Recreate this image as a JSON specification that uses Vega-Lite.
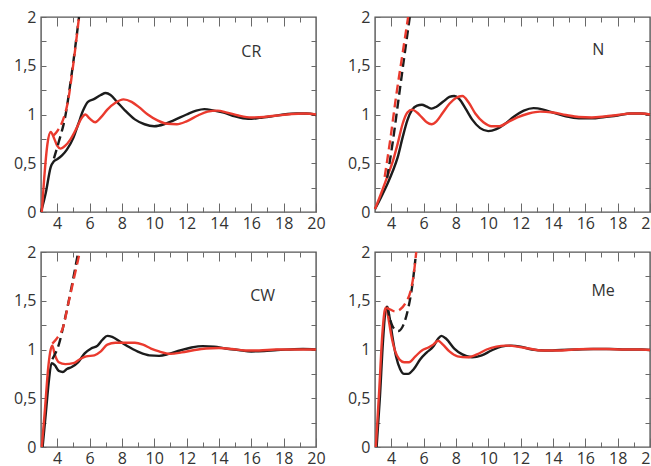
{
  "$schema": "https://vega.github.io/schema/vega-lite/v6.json",
  "padding": {"left": 12, "top": 8, "right": 0, "bottom": 0},
  "spacing": {"row": 11, "column": 20},
  "columns": 2,
  "config": {
    "view": {"stroke": "#555555", "strokeWidth": 1.4},
    "axis": {"grid": false, "domain": false, "labelFont": "Open Sans", "labelFontSize": 16, "labelColor": "#333333", "labelFlush": false, "labelOverlap": false, "title": null}
  },
  "datasets": {
    "CR": [
      {"set": "1", "curve": "main", "x": 3.0, "y": 0},
      {"set": "1", "curve": "main", "x": 3.3, "y": 0.2},
      {"set": "1", "curve": "main", "x": 3.6, "y": 0.46},
      {"set": "1", "curve": "main", "x": 3.8, "y": 0.52},
      {"set": "1", "curve": "main", "x": 4.0, "y": 0.54},
      {"set": "1", "curve": "main", "x": 4.3, "y": 0.58},
      {"set": "1", "curve": "main", "x": 4.6, "y": 0.64},
      {"set": "1", "curve": "main", "x": 5.0, "y": 0.76},
      {"set": "1", "curve": "main", "x": 5.3, "y": 0.9},
      {"set": "1", "curve": "main", "x": 5.6, "y": 1.04},
      {"set": "1", "curve": "main", "x": 5.9, "y": 1.13},
      {"set": "1", "curve": "main", "x": 6.3, "y": 1.16},
      {"set": "1", "curve": "main", "x": 6.7, "y": 1.2},
      {"set": "1", "curve": "main", "x": 7.0, "y": 1.22},
      {"set": "1", "curve": "main", "x": 7.3, "y": 1.2},
      {"set": "1", "curve": "main", "x": 7.7, "y": 1.13},
      {"set": "1", "curve": "main", "x": 8.2, "y": 1.04},
      {"set": "1", "curve": "main", "x": 8.8, "y": 0.95},
      {"set": "1", "curve": "main", "x": 9.4, "y": 0.9},
      {"set": "1", "curve": "main", "x": 10.0, "y": 0.88},
      {"set": "1", "curve": "main", "x": 10.6, "y": 0.9},
      {"set": "1", "curve": "main", "x": 11.2, "y": 0.94},
      {"set": "1", "curve": "main", "x": 12.0, "y": 1.0},
      {"set": "1", "curve": "main", "x": 12.6, "y": 1.04},
      {"set": "1", "curve": "main", "x": 13.1, "y": 1.055},
      {"set": "1", "curve": "main", "x": 13.7, "y": 1.04},
      {"set": "1", "curve": "main", "x": 14.3, "y": 1.02},
      {"set": "1", "curve": "main", "x": 15.0, "y": 0.98},
      {"set": "1", "curve": "main", "x": 15.8, "y": 0.955},
      {"set": "1", "curve": "main", "x": 16.5, "y": 0.965},
      {"set": "1", "curve": "main", "x": 17.2, "y": 0.98},
      {"set": "1", "curve": "main", "x": 18.0, "y": 1.0},
      {"set": "1", "curve": "main", "x": 18.8, "y": 1.01},
      {"set": "1", "curve": "main", "x": 19.4, "y": 1.01},
      {"set": "1", "curve": "main", "x": 20.0, "y": 0.995},
      {"set": "2", "curve": "main", "x": 3.05, "y": 0},
      {"set": "2", "curve": "main", "x": 3.2, "y": 0.35},
      {"set": "2", "curve": "main", "x": 3.4, "y": 0.7},
      {"set": "2", "curve": "main", "x": 3.6, "y": 0.82},
      {"set": "2", "curve": "main", "x": 3.8, "y": 0.76},
      {"set": "2", "curve": "main", "x": 4.0, "y": 0.68},
      {"set": "2", "curve": "main", "x": 4.2, "y": 0.65},
      {"set": "2", "curve": "main", "x": 4.5, "y": 0.68},
      {"set": "2", "curve": "main", "x": 4.8, "y": 0.74},
      {"set": "2", "curve": "main", "x": 5.2, "y": 0.86},
      {"set": "2", "curve": "main", "x": 5.5, "y": 0.96},
      {"set": "2", "curve": "main", "x": 5.75, "y": 1.0},
      {"set": "2", "curve": "main", "x": 6.0, "y": 0.96},
      {"set": "2", "curve": "main", "x": 6.35, "y": 0.92},
      {"set": "2", "curve": "main", "x": 6.7, "y": 0.97},
      {"set": "2", "curve": "main", "x": 7.1, "y": 1.05},
      {"set": "2", "curve": "main", "x": 7.6, "y": 1.12},
      {"set": "2", "curve": "main", "x": 8.1, "y": 1.155},
      {"set": "2", "curve": "main", "x": 8.6, "y": 1.13},
      {"set": "2", "curve": "main", "x": 9.1, "y": 1.07},
      {"set": "2", "curve": "main", "x": 9.6, "y": 1.0},
      {"set": "2", "curve": "main", "x": 10.2, "y": 0.94},
      {"set": "2", "curve": "main", "x": 10.8, "y": 0.905},
      {"set": "2", "curve": "main", "x": 11.4, "y": 0.9},
      {"set": "2", "curve": "main", "x": 12.0, "y": 0.93},
      {"set": "2", "curve": "main", "x": 12.7, "y": 0.99},
      {"set": "2", "curve": "main", "x": 13.3, "y": 1.03},
      {"set": "2", "curve": "main", "x": 13.9, "y": 1.04},
      {"set": "2", "curve": "main", "x": 14.5, "y": 1.02},
      {"set": "2", "curve": "main", "x": 15.2, "y": 0.99},
      {"set": "2", "curve": "main", "x": 16.0, "y": 0.97},
      {"set": "2", "curve": "main", "x": 16.8, "y": 0.975},
      {"set": "2", "curve": "main", "x": 17.6, "y": 0.99},
      {"set": "2", "curve": "main", "x": 18.5, "y": 1.005},
      {"set": "2", "curve": "main", "x": 19.3, "y": 1.01},
      {"set": "2", "curve": "main", "x": 20.0, "y": 1.0},
      {"set": "1", "curve": "divergent", "x": 3.8, "y": 0.55},
      {"set": "1", "curve": "divergent", "x": 4.1, "y": 0.72},
      {"set": "1", "curve": "divergent", "x": 4.5, "y": 0.98},
      {"set": "1", "curve": "divergent", "x": 4.9, "y": 1.42},
      {"set": "1", "curve": "divergent", "x": 5.35, "y": 2.0},
      {"set": "2", "curve": "divergent", "x": 3.75, "y": 0.78},
      {"set": "2", "curve": "divergent", "x": 4.05, "y": 0.84},
      {"set": "2", "curve": "divergent", "x": 4.35, "y": 0.94},
      {"set": "2", "curve": "divergent", "x": 4.65, "y": 1.12},
      {"set": "2", "curve": "divergent", "x": 5.0, "y": 1.52},
      {"set": "2", "curve": "divergent", "x": 5.35, "y": 2.0}
    ],
    "N": [
      {"set": "1", "curve": "main", "x": 3.0, "y": 0.03},
      {"set": "1", "curve": "main", "x": 3.4, "y": 0.16},
      {"set": "1", "curve": "main", "x": 3.8, "y": 0.3},
      {"set": "1", "curve": "main", "x": 4.1, "y": 0.42},
      {"set": "1", "curve": "main", "x": 4.4, "y": 0.56},
      {"set": "1", "curve": "main", "x": 4.7, "y": 0.76},
      {"set": "1", "curve": "main", "x": 5.0, "y": 0.94},
      {"set": "1", "curve": "main", "x": 5.3, "y": 1.05},
      {"set": "1", "curve": "main", "x": 5.6, "y": 1.09},
      {"set": "1", "curve": "main", "x": 5.9, "y": 1.1},
      {"set": "1", "curve": "main", "x": 6.2, "y": 1.08},
      {"set": "1", "curve": "main", "x": 6.5, "y": 1.06},
      {"set": "1", "curve": "main", "x": 6.8, "y": 1.08},
      {"set": "1", "curve": "main", "x": 7.2, "y": 1.13},
      {"set": "1", "curve": "main", "x": 7.6, "y": 1.18},
      {"set": "1", "curve": "main", "x": 7.9, "y": 1.19},
      {"set": "1", "curve": "main", "x": 8.2, "y": 1.16},
      {"set": "1", "curve": "main", "x": 8.6, "y": 1.06},
      {"set": "1", "curve": "main", "x": 9.0, "y": 0.95},
      {"set": "1", "curve": "main", "x": 9.5, "y": 0.86},
      {"set": "1", "curve": "main", "x": 10.0, "y": 0.83},
      {"set": "1", "curve": "main", "x": 10.5, "y": 0.85},
      {"set": "1", "curve": "main", "x": 11.0, "y": 0.9},
      {"set": "1", "curve": "main", "x": 11.6, "y": 0.98},
      {"set": "1", "curve": "main", "x": 12.2, "y": 1.04},
      {"set": "1", "curve": "main", "x": 12.8, "y": 1.065},
      {"set": "1", "curve": "main", "x": 13.4, "y": 1.05},
      {"set": "1", "curve": "main", "x": 14.0, "y": 1.02},
      {"set": "1", "curve": "main", "x": 14.8, "y": 0.98},
      {"set": "1", "curve": "main", "x": 15.6, "y": 0.96},
      {"set": "1", "curve": "main", "x": 16.4, "y": 0.96},
      {"set": "1", "curve": "main", "x": 17.2, "y": 0.975},
      {"set": "1", "curve": "main", "x": 18.0, "y": 0.99},
      {"set": "1", "curve": "main", "x": 18.8, "y": 1.01},
      {"set": "1", "curve": "main", "x": 19.4, "y": 1.01},
      {"set": "1", "curve": "main", "x": 20.0, "y": 1.0},
      {"set": "2", "curve": "main", "x": 3.0, "y": 0.03},
      {"set": "2", "curve": "main", "x": 3.4, "y": 0.2},
      {"set": "2", "curve": "main", "x": 3.8, "y": 0.38},
      {"set": "2", "curve": "main", "x": 4.1, "y": 0.52},
      {"set": "2", "curve": "main", "x": 4.4, "y": 0.7},
      {"set": "2", "curve": "main", "x": 4.7, "y": 0.9},
      {"set": "2", "curve": "main", "x": 5.0, "y": 1.02},
      {"set": "2", "curve": "main", "x": 5.3, "y": 1.05},
      {"set": "2", "curve": "main", "x": 5.6, "y": 1.02},
      {"set": "2", "curve": "main", "x": 5.9, "y": 0.97},
      {"set": "2", "curve": "main", "x": 6.2, "y": 0.92},
      {"set": "2", "curve": "main", "x": 6.5, "y": 0.9},
      {"set": "2", "curve": "main", "x": 6.8, "y": 0.93},
      {"set": "2", "curve": "main", "x": 7.2, "y": 1.02},
      {"set": "2", "curve": "main", "x": 7.6, "y": 1.11},
      {"set": "2", "curve": "main", "x": 8.0, "y": 1.17},
      {"set": "2", "curve": "main", "x": 8.4, "y": 1.19},
      {"set": "2", "curve": "main", "x": 8.8, "y": 1.12},
      {"set": "2", "curve": "main", "x": 9.2, "y": 1.01},
      {"set": "2", "curve": "main", "x": 9.7, "y": 0.92},
      {"set": "2", "curve": "main", "x": 10.2, "y": 0.88},
      {"set": "2", "curve": "main", "x": 10.7, "y": 0.88},
      {"set": "2", "curve": "main", "x": 11.2, "y": 0.92},
      {"set": "2", "curve": "main", "x": 11.8, "y": 0.97},
      {"set": "2", "curve": "main", "x": 12.5, "y": 1.01},
      {"set": "2", "curve": "main", "x": 13.2, "y": 1.03},
      {"set": "2", "curve": "main", "x": 14.0, "y": 1.02},
      {"set": "2", "curve": "main", "x": 14.8, "y": 0.995},
      {"set": "2", "curve": "main", "x": 15.6, "y": 0.975},
      {"set": "2", "curve": "main", "x": 16.4, "y": 0.97},
      {"set": "2", "curve": "main", "x": 17.2, "y": 0.98},
      {"set": "2", "curve": "main", "x": 18.0, "y": 0.995},
      {"set": "2", "curve": "main", "x": 18.8, "y": 1.01},
      {"set": "2", "curve": "main", "x": 19.5, "y": 1.01},
      {"set": "2", "curve": "main", "x": 20.0, "y": 1.0},
      {"set": "1", "curve": "divergent", "x": 3.75, "y": 0.35},
      {"set": "1", "curve": "divergent", "x": 4.1, "y": 0.72},
      {"set": "1", "curve": "divergent", "x": 4.45, "y": 1.15},
      {"set": "1", "curve": "divergent", "x": 4.8, "y": 1.58},
      {"set": "1", "curve": "divergent", "x": 5.15, "y": 2.0},
      {"set": "2", "curve": "divergent", "x": 3.6, "y": 0.36},
      {"set": "2", "curve": "divergent", "x": 3.95, "y": 0.75},
      {"set": "2", "curve": "divergent", "x": 4.3, "y": 1.18},
      {"set": "2", "curve": "divergent", "x": 4.7, "y": 1.62},
      {"set": "2", "curve": "divergent", "x": 5.05, "y": 2.0}
    ],
    "CW": [
      {"set": "1", "curve": "main", "x": 3.1, "y": 0},
      {"set": "1", "curve": "main", "x": 3.3, "y": 0.35},
      {"set": "1", "curve": "main", "x": 3.5, "y": 0.7},
      {"set": "1", "curve": "main", "x": 3.65, "y": 0.86},
      {"set": "1", "curve": "main", "x": 3.85, "y": 0.84},
      {"set": "1", "curve": "main", "x": 4.1, "y": 0.78},
      {"set": "1", "curve": "main", "x": 4.35, "y": 0.77},
      {"set": "1", "curve": "main", "x": 4.6, "y": 0.8},
      {"set": "1", "curve": "main", "x": 4.9, "y": 0.82},
      {"set": "1", "curve": "main", "x": 5.3, "y": 0.87},
      {"set": "1", "curve": "main", "x": 5.7, "y": 0.96},
      {"set": "1", "curve": "main", "x": 6.1, "y": 1.01},
      {"set": "1", "curve": "main", "x": 6.5, "y": 1.04},
      {"set": "1", "curve": "main", "x": 6.8, "y": 1.1},
      {"set": "1", "curve": "main", "x": 7.1, "y": 1.14},
      {"set": "1", "curve": "main", "x": 7.4, "y": 1.13},
      {"set": "1", "curve": "main", "x": 7.9, "y": 1.08},
      {"set": "1", "curve": "main", "x": 8.5, "y": 1.02},
      {"set": "1", "curve": "main", "x": 9.1, "y": 0.97},
      {"set": "1", "curve": "main", "x": 9.7, "y": 0.94},
      {"set": "1", "curve": "main", "x": 10.3, "y": 0.935},
      {"set": "1", "curve": "main", "x": 10.9, "y": 0.955},
      {"set": "1", "curve": "main", "x": 11.6, "y": 0.99},
      {"set": "1", "curve": "main", "x": 12.3, "y": 1.02},
      {"set": "1", "curve": "main", "x": 13.0, "y": 1.035},
      {"set": "1", "curve": "main", "x": 13.7, "y": 1.03},
      {"set": "1", "curve": "main", "x": 14.4, "y": 1.01},
      {"set": "1", "curve": "main", "x": 15.2, "y": 0.995},
      {"set": "1", "curve": "main", "x": 16.0, "y": 0.98},
      {"set": "1", "curve": "main", "x": 16.8, "y": 0.985},
      {"set": "1", "curve": "main", "x": 17.6, "y": 0.995},
      {"set": "1", "curve": "main", "x": 18.4, "y": 1.0},
      {"set": "1", "curve": "main", "x": 19.2, "y": 1.005},
      {"set": "1", "curve": "main", "x": 20.0, "y": 1.0},
      {"set": "2", "curve": "main", "x": 3.05, "y": 0},
      {"set": "2", "curve": "main", "x": 3.25, "y": 0.4},
      {"set": "2", "curve": "main", "x": 3.45, "y": 0.82},
      {"set": "2", "curve": "main", "x": 3.6, "y": 1.0},
      {"set": "2", "curve": "main", "x": 3.7, "y": 1.04},
      {"set": "2", "curve": "main", "x": 3.85, "y": 0.95},
      {"set": "2", "curve": "main", "x": 4.1, "y": 0.87},
      {"set": "2", "curve": "main", "x": 4.5, "y": 0.85},
      {"set": "2", "curve": "main", "x": 5.0, "y": 0.86},
      {"set": "2", "curve": "main", "x": 5.4, "y": 0.9},
      {"set": "2", "curve": "main", "x": 5.8, "y": 0.93},
      {"set": "2", "curve": "main", "x": 6.3, "y": 0.94},
      {"set": "2", "curve": "main", "x": 6.7, "y": 0.98},
      {"set": "2", "curve": "main", "x": 7.1, "y": 1.05},
      {"set": "2", "curve": "main", "x": 7.6, "y": 1.07},
      {"set": "2", "curve": "main", "x": 8.2, "y": 1.07},
      {"set": "2", "curve": "main", "x": 8.8, "y": 1.07},
      {"set": "2", "curve": "main", "x": 9.3, "y": 1.05},
      {"set": "2", "curve": "main", "x": 9.8, "y": 1.01},
      {"set": "2", "curve": "main", "x": 10.3, "y": 0.98},
      {"set": "2", "curve": "main", "x": 11.0, "y": 0.955},
      {"set": "2", "curve": "main", "x": 11.7, "y": 0.97},
      {"set": "2", "curve": "main", "x": 12.5, "y": 0.995},
      {"set": "2", "curve": "main", "x": 13.2, "y": 1.01},
      {"set": "2", "curve": "main", "x": 14.0, "y": 1.015},
      {"set": "2", "curve": "main", "x": 14.8, "y": 1.005},
      {"set": "2", "curve": "main", "x": 15.6, "y": 0.99},
      {"set": "2", "curve": "main", "x": 16.5, "y": 0.99},
      {"set": "2", "curve": "main", "x": 17.5, "y": 1.0},
      {"set": "2", "curve": "main", "x": 18.5, "y": 1.0},
      {"set": "2", "curve": "main", "x": 20.0, "y": 1.0},
      {"set": "1", "curve": "divergent", "x": 3.7, "y": 0.9},
      {"set": "1", "curve": "divergent", "x": 4.1, "y": 1.05},
      {"set": "1", "curve": "divergent", "x": 4.5, "y": 1.33},
      {"set": "1", "curve": "divergent", "x": 4.9, "y": 1.65},
      {"set": "1", "curve": "divergent", "x": 5.3, "y": 2.0},
      {"set": "2", "curve": "divergent", "x": 3.7, "y": 1.06},
      {"set": "2", "curve": "divergent", "x": 4.05, "y": 1.13},
      {"set": "2", "curve": "divergent", "x": 4.35, "y": 1.22},
      {"set": "2", "curve": "divergent", "x": 4.7, "y": 1.48},
      {"set": "2", "curve": "divergent", "x": 5.05, "y": 1.74},
      {"set": "2", "curve": "divergent", "x": 5.4, "y": 2.0}
    ],
    "Me": [
      {"set": "1", "curve": "main", "x": 3.1, "y": 0},
      {"set": "1", "curve": "main", "x": 3.3, "y": 0.5},
      {"set": "1", "curve": "main", "x": 3.5, "y": 1.1},
      {"set": "1", "curve": "main", "x": 3.65, "y": 1.4},
      {"set": "1", "curve": "main", "x": 3.75, "y": 1.44},
      {"set": "1", "curve": "main", "x": 3.9, "y": 1.33},
      {"set": "1", "curve": "main", "x": 4.07, "y": 1.14},
      {"set": "1", "curve": "main", "x": 4.3, "y": 0.93},
      {"set": "1", "curve": "main", "x": 4.55, "y": 0.8},
      {"set": "1", "curve": "main", "x": 4.8, "y": 0.75},
      {"set": "1", "curve": "main", "x": 5.05, "y": 0.75},
      {"set": "1", "curve": "main", "x": 5.4, "y": 0.8},
      {"set": "1", "curve": "main", "x": 5.8, "y": 0.9},
      {"set": "1", "curve": "main", "x": 6.2, "y": 0.97},
      {"set": "1", "curve": "main", "x": 6.6, "y": 1.03},
      {"set": "1", "curve": "main", "x": 6.9, "y": 1.11},
      {"set": "1", "curve": "main", "x": 7.1, "y": 1.14},
      {"set": "1", "curve": "main", "x": 7.4, "y": 1.11},
      {"set": "1", "curve": "main", "x": 7.9, "y": 1.01},
      {"set": "1", "curve": "main", "x": 8.4, "y": 0.95},
      {"set": "1", "curve": "main", "x": 9.0, "y": 0.92},
      {"set": "1", "curve": "main", "x": 9.6, "y": 0.94},
      {"set": "1", "curve": "main", "x": 10.2, "y": 0.99},
      {"set": "1", "curve": "main", "x": 10.8, "y": 1.03},
      {"set": "1", "curve": "main", "x": 11.4, "y": 1.04},
      {"set": "1", "curve": "main", "x": 12.0, "y": 1.03},
      {"set": "1", "curve": "main", "x": 12.7, "y": 1.0},
      {"set": "1", "curve": "main", "x": 13.5, "y": 0.99},
      {"set": "1", "curve": "main", "x": 14.5, "y": 0.995},
      {"set": "1", "curve": "main", "x": 15.5, "y": 1.0},
      {"set": "1", "curve": "main", "x": 16.5, "y": 1.005},
      {"set": "1", "curve": "main", "x": 17.5, "y": 1.005},
      {"set": "1", "curve": "main", "x": 18.5, "y": 1.0},
      {"set": "1", "curve": "main", "x": 19.5, "y": 1.0},
      {"set": "1", "curve": "main", "x": 20.0, "y": 0.995},
      {"set": "2", "curve": "main", "x": 3.05, "y": 0},
      {"set": "2", "curve": "main", "x": 3.25, "y": 0.55},
      {"set": "2", "curve": "main", "x": 3.45, "y": 1.15},
      {"set": "2", "curve": "main", "x": 3.6, "y": 1.4},
      {"set": "2", "curve": "main", "x": 3.68, "y": 1.43},
      {"set": "2", "curve": "main", "x": 3.85, "y": 1.3},
      {"set": "2", "curve": "main", "x": 4.0, "y": 1.15},
      {"set": "2", "curve": "main", "x": 4.25, "y": 0.98},
      {"set": "2", "curve": "main", "x": 4.5, "y": 0.9},
      {"set": "2", "curve": "main", "x": 4.8, "y": 0.87},
      {"set": "2", "curve": "main", "x": 5.1, "y": 0.87},
      {"set": "2", "curve": "main", "x": 5.5, "y": 0.93},
      {"set": "2", "curve": "main", "x": 5.9, "y": 0.99},
      {"set": "2", "curve": "main", "x": 6.3, "y": 1.02},
      {"set": "2", "curve": "main", "x": 6.6, "y": 1.05},
      {"set": "2", "curve": "main", "x": 6.9, "y": 1.09},
      {"set": "2", "curve": "main", "x": 7.2, "y": 1.05},
      {"set": "2", "curve": "main", "x": 7.6, "y": 0.98},
      {"set": "2", "curve": "main", "x": 8.1, "y": 0.93},
      {"set": "2", "curve": "main", "x": 8.7, "y": 0.92},
      {"set": "2", "curve": "main", "x": 9.3, "y": 0.95},
      {"set": "2", "curve": "main", "x": 9.9, "y": 1.0},
      {"set": "2", "curve": "main", "x": 10.5, "y": 1.03},
      {"set": "2", "curve": "main", "x": 11.1, "y": 1.04},
      {"set": "2", "curve": "main", "x": 11.8, "y": 1.03},
      {"set": "2", "curve": "main", "x": 12.5, "y": 1.01},
      {"set": "2", "curve": "main", "x": 13.3, "y": 0.99},
      {"set": "2", "curve": "main", "x": 14.3, "y": 0.99},
      {"set": "2", "curve": "main", "x": 15.3, "y": 1.0},
      {"set": "2", "curve": "main", "x": 16.3, "y": 1.005},
      {"set": "2", "curve": "main", "x": 17.3, "y": 1.005},
      {"set": "2", "curve": "main", "x": 18.3, "y": 1.0},
      {"set": "2", "curve": "main", "x": 19.3, "y": 1.0},
      {"set": "2", "curve": "main", "x": 20.0, "y": 0.995},
      {"set": "1", "curve": "divergent", "x": 3.75, "y": 1.44},
      {"set": "1", "curve": "divergent", "x": 3.95, "y": 1.3},
      {"set": "1", "curve": "divergent", "x": 4.2, "y": 1.21},
      {"set": "1", "curve": "divergent", "x": 4.45, "y": 1.19},
      {"set": "1", "curve": "divergent", "x": 4.75, "y": 1.25},
      {"set": "1", "curve": "divergent", "x": 5.05, "y": 1.42},
      {"set": "1", "curve": "divergent", "x": 5.3, "y": 1.65},
      {"set": "1", "curve": "divergent", "x": 5.5, "y": 1.93},
      {"set": "2", "curve": "divergent", "x": 3.7, "y": 1.43},
      {"set": "2", "curve": "divergent", "x": 3.95, "y": 1.41},
      {"set": "2", "curve": "divergent", "x": 4.25, "y": 1.39},
      {"set": "2", "curve": "divergent", "x": 4.55, "y": 1.41},
      {"set": "2", "curve": "divergent", "x": 4.9, "y": 1.48},
      {"set": "2", "curve": "divergent", "x": 5.2, "y": 1.6},
      {"set": "2", "curve": "divergent", "x": 5.4, "y": 1.78},
      {"set": "2", "curve": "divergent", "x": 5.55, "y": 2.0}
    ]
  },
  "concat": [
    {
      "width": 275, "height": 195,
      "data": {"name": "CR"},
      "layer": [
        {"transform": [{"filter": "datum.curve == 'main' && datum.set == '1'"}],
         "mark": {"type": "line", "strokeWidth": 2.4, "interpolate": "monotone"},
         "encoding": {
           "x": {"field": "x", "type": "quantitative", "scale": {"domain": [3, 20], "nice": false, "zero": false},
                 "axis": {"orient": "bottom", "values": [4,6,8,10,12,14,16,18,20], "ticks": true, "tickSize": -9, "tickColor": "dimgray", "tickWidth": 1, "labelPadding": 12, "labelExpr": "toString(datum.value)"}},
           "y": {"field": "y", "type": "quantitative", "scale": {"domain": [0, 2], "nice": false},
                 "axis": {"orient": "left", "values": [0,0.25,0.5,0.75,1,1.25,1.5,1.75,2], "ticks": true, "tickSize": -5, "tickColor": "dimgray", "tickWidth": 1, "labelPadding": 10, "labelExpr": "datum.value % 0.5 == 0 ? replace(toString(datum.value), '.', ',') : ''"}},
           "color": {"field": "set", "type": "nominal", "scale": {"domain": ["1", "2"], "range": ["#1c1c1c", "#ea3a2e"]}, "legend": null}
         }},
        {"transform": [{"filter": "datum.curve == 'main' && datum.set == '2'"}],
         "mark": {"type": "line", "strokeWidth": 2.4, "interpolate": "monotone"},
         "encoding": {
           "x": {"field": "x", "type": "quantitative", "axis": {"orient": "bottom", "labels": false, "values": [5,7,9,11,13,15,17,19], "ticks": true, "tickSize": -5, "tickColor": "dimgray", "tickWidth": 1}},
           "y": {"field": "y", "type": "quantitative", "axis": {"orient": "right", "labels": false, "values": [0.25,0.5,0.75,1,1.25,1.5,1.75], "ticks": true, "tickSize": -5, "tickColor": "dimgray", "tickWidth": 1}},
           "color": {"field": "set", "type": "nominal", "legend": null}
         }},
        {"transform": [{"filter": "datum.curve == 'divergent'"}],
         "mark": {"type": "line", "strokeWidth": 2.4, "strokeDash": [9, 5], "interpolate": "monotone", "clip": true},
         "encoding": {
           "x": {"field": "x", "type": "quantitative", "axis": {"orient": "top", "labels": false, "values": [4,6,8,10,12,14,16,18], "ticks": true, "tickSize": -9, "tickColor": "dimgray", "tickWidth": 1}},
           "y": {"field": "y", "type": "quantitative", "axis": null},
           "detail": {"field": "set"},
           "color": {"field": "set", "type": "nominal", "legend": null}
         }},
        {"data": {"values": [{"label": "CR"}]},
         "mark": {"type": "text", "font": "Open Sans", "fontSize": 16, "color": "#333333"},
         "encoding": {
           "x": {"datum": 16.0, "type": "quantitative", "axis": {"orient": "top", "labels": false, "values": [5,7,9,11,13,15,17,19], "ticks": true, "tickSize": -5, "tickColor": "dimgray", "tickWidth": 1}},
           "y": {"datum": 1.64, "type": "quantitative", "axis": null},
           "text": {"field": "label"}}}
      ],
      "resolve": {"axis": {"x": "independent", "y": "independent"}}
    },
    {
      "width": 275, "height": 195,
      "data": {"name": "N"},
      "layer": [
        {"transform": [{"filter": "datum.curve == 'main' && datum.set == '1'"}],
         "mark": {"type": "line", "strokeWidth": 2.4, "interpolate": "monotone"},
         "encoding": {
           "x": {"field": "x", "type": "quantitative", "scale": {"domain": [3, 20], "nice": false, "zero": false},
                 "axis": {"orient": "bottom", "values": [4,6,8,10,12,14,16,18,20], "ticks": true, "tickSize": -9, "tickColor": "dimgray", "tickWidth": 1, "labelPadding": 12, "labelExpr": "toString(datum.value)"}},
           "y": {"field": "y", "type": "quantitative", "scale": {"domain": [0, 2], "nice": false},
                 "axis": {"orient": "left", "values": [0,0.25,0.5,0.75,1,1.25,1.5,1.75,2], "ticks": true, "tickSize": -5, "tickColor": "dimgray", "tickWidth": 1, "labelPadding": 10, "labelExpr": "datum.value % 0.5 == 0 ? replace(toString(datum.value), '.', ',') : ''"}},
           "color": {"field": "set", "type": "nominal", "scale": {"domain": ["1", "2"], "range": ["#1c1c1c", "#ea3a2e"]}, "legend": null}
         }},
        {"transform": [{"filter": "datum.curve == 'main' && datum.set == '2'"}],
         "mark": {"type": "line", "strokeWidth": 2.4, "interpolate": "monotone"},
         "encoding": {
           "x": {"field": "x", "type": "quantitative", "axis": {"orient": "bottom", "labels": false, "values": [5,7,9,11,13,15,17,19], "ticks": true, "tickSize": -5, "tickColor": "dimgray", "tickWidth": 1}},
           "y": {"field": "y", "type": "quantitative", "axis": {"orient": "right", "labels": false, "values": [0.25,0.5,0.75,1,1.25,1.5,1.75], "ticks": true, "tickSize": -5, "tickColor": "dimgray", "tickWidth": 1}},
           "color": {"field": "set", "type": "nominal", "legend": null}
         }},
        {"transform": [{"filter": "datum.curve == 'divergent'"}],
         "mark": {"type": "line", "strokeWidth": 2.4, "strokeDash": [9, 5], "interpolate": "monotone", "clip": true},
         "encoding": {
           "x": {"field": "x", "type": "quantitative", "axis": {"orient": "top", "labels": false, "values": [4,6,8,10,12,14,16,18], "ticks": true, "tickSize": -9, "tickColor": "dimgray", "tickWidth": 1}},
           "y": {"field": "y", "type": "quantitative", "axis": null},
           "detail": {"field": "set"},
           "color": {"field": "set", "type": "nominal", "legend": null}
         }},
        {"data": {"values": [{"label": "N"}]},
         "mark": {"type": "text", "font": "Open Sans", "fontSize": 16, "color": "#333333"},
         "encoding": {
           "x": {"datum": 16.8, "type": "quantitative", "axis": {"orient": "top", "labels": false, "values": [5,7,9,11,13,15,17,19], "ticks": true, "tickSize": -5, "tickColor": "dimgray", "tickWidth": 1}},
           "y": {"datum": 1.66, "type": "quantitative", "axis": null},
           "text": {"field": "label"}}}
      ],
      "resolve": {"axis": {"x": "independent", "y": "independent"}}
    },
    {
      "width": 275, "height": 195,
      "data": {"name": "CW"},
      "layer": [
        {"transform": [{"filter": "datum.curve == 'main' && datum.set == '1'"}],
         "mark": {"type": "line", "strokeWidth": 2.4, "interpolate": "monotone"},
         "encoding": {
           "x": {"field": "x", "type": "quantitative", "scale": {"domain": [3, 20], "nice": false, "zero": false},
                 "axis": {"orient": "bottom", "values": [4,6,8,10,12,14,16,18,20], "ticks": true, "tickSize": -9, "tickColor": "dimgray", "tickWidth": 1, "labelPadding": 12, "labelExpr": "toString(datum.value)"}},
           "y": {"field": "y", "type": "quantitative", "scale": {"domain": [0, 2], "nice": false},
                 "axis": {"orient": "left", "values": [0,0.25,0.5,0.75,1,1.25,1.5,1.75,2], "ticks": true, "tickSize": -5, "tickColor": "dimgray", "tickWidth": 1, "labelPadding": 10, "labelExpr": "datum.value % 0.5 == 0 ? replace(toString(datum.value), '.', ',') : ''"}},
           "color": {"field": "set", "type": "nominal", "scale": {"domain": ["1", "2"], "range": ["#1c1c1c", "#ea3a2e"]}, "legend": null}
         }},
        {"transform": [{"filter": "datum.curve == 'main' && datum.set == '2'"}],
         "mark": {"type": "line", "strokeWidth": 2.4, "interpolate": "monotone"},
         "encoding": {
           "x": {"field": "x", "type": "quantitative", "axis": {"orient": "bottom", "labels": false, "values": [5,7,9,11,13,15,17,19], "ticks": true, "tickSize": -5, "tickColor": "dimgray", "tickWidth": 1}},
           "y": {"field": "y", "type": "quantitative", "axis": {"orient": "right", "labels": false, "values": [0.25,0.5,0.75,1,1.25,1.5,1.75], "ticks": true, "tickSize": -5, "tickColor": "dimgray", "tickWidth": 1}},
           "color": {"field": "set", "type": "nominal", "legend": null}
         }},
        {"transform": [{"filter": "datum.curve == 'divergent'"}],
         "mark": {"type": "line", "strokeWidth": 2.4, "strokeDash": [9, 5], "interpolate": "monotone", "clip": true},
         "encoding": {
           "x": {"field": "x", "type": "quantitative", "axis": {"orient": "top", "labels": false, "values": [4,6,8,10,12,14,16,18], "ticks": true, "tickSize": -9, "tickColor": "dimgray", "tickWidth": 1}},
           "y": {"field": "y", "type": "quantitative", "axis": null},
           "detail": {"field": "set"},
           "color": {"field": "set", "type": "nominal", "legend": null}
         }},
        {"data": {"values": [{"label": "CW"}]},
         "mark": {"type": "text", "font": "Open Sans", "fontSize": 16, "color": "#333333"},
         "encoding": {
           "x": {"datum": 16.7, "type": "quantitative", "axis": {"orient": "top", "labels": false, "values": [5,7,9,11,13,15,17,19], "ticks": true, "tickSize": -5, "tickColor": "dimgray", "tickWidth": 1}},
           "y": {"datum": 1.55, "type": "quantitative", "axis": null},
           "text": {"field": "label"}}}
      ],
      "resolve": {"axis": {"x": "independent", "y": "independent"}}
    },
    {
      "width": 275, "height": 195,
      "data": {"name": "Me"},
      "layer": [
        {"transform": [{"filter": "datum.curve == 'main' && datum.set == '1'"}],
         "mark": {"type": "line", "strokeWidth": 2.4, "interpolate": "monotone"},
         "encoding": {
           "x": {"field": "x", "type": "quantitative", "scale": {"domain": [3, 20], "nice": false, "zero": false},
                 "axis": {"orient": "bottom", "values": [4,6,8,10,12,14,16,18,20], "ticks": true, "tickSize": -9, "tickColor": "dimgray", "tickWidth": 1, "labelPadding": 12, "labelExpr": "toString(datum.value)"}},
           "y": {"field": "y", "type": "quantitative", "scale": {"domain": [0, 2], "nice": false},
                 "axis": {"orient": "left", "values": [0,0.25,0.5,0.75,1,1.25,1.5,1.75,2], "ticks": true, "tickSize": -5, "tickColor": "dimgray", "tickWidth": 1, "labelPadding": 10, "labelExpr": "datum.value % 0.5 == 0 ? replace(toString(datum.value), '.', ',') : ''"}},
           "color": {"field": "set", "type": "nominal", "scale": {"domain": ["1", "2"], "range": ["#1c1c1c", "#ea3a2e"]}, "legend": null}
         }},
        {"transform": [{"filter": "datum.curve == 'main' && datum.set == '2'"}],
         "mark": {"type": "line", "strokeWidth": 2.4, "interpolate": "monotone"},
         "encoding": {
           "x": {"field": "x", "type": "quantitative", "axis": {"orient": "bottom", "labels": false, "values": [5,7,9,11,13,15,17,19], "ticks": true, "tickSize": -5, "tickColor": "dimgray", "tickWidth": 1}},
           "y": {"field": "y", "type": "quantitative", "axis": {"orient": "right", "labels": false, "values": [0.25,0.5,0.75,1,1.25,1.5,1.75], "ticks": true, "tickSize": -5, "tickColor": "dimgray", "tickWidth": 1}},
           "color": {"field": "set", "type": "nominal", "legend": null}
         }},
        {"transform": [{"filter": "datum.curve == 'divergent'"}],
         "mark": {"type": "line", "strokeWidth": 2.4, "strokeDash": [9, 5], "interpolate": "monotone", "clip": true},
         "encoding": {
           "x": {"field": "x", "type": "quantitative", "axis": {"orient": "top", "labels": false, "values": [4,6,8,10,12,14,16,18], "ticks": true, "tickSize": -9, "tickColor": "dimgray", "tickWidth": 1}},
           "y": {"field": "y", "type": "quantitative", "axis": null},
           "detail": {"field": "set"},
           "color": {"field": "set", "type": "nominal", "legend": null}
         }},
        {"data": {"values": [{"label": "Me"}]},
         "mark": {"type": "text", "font": "Open Sans", "fontSize": 16, "color": "#333333"},
         "encoding": {
           "x": {"datum": 17.1, "type": "quantitative", "axis": {"orient": "top", "labels": false, "values": [5,7,9,11,13,15,17,19], "ticks": true, "tickSize": -5, "tickColor": "dimgray", "tickWidth": 1}},
           "y": {"datum": 1.6, "type": "quantitative", "axis": null},
           "text": {"field": "label"}}}
      ],
      "resolve": {"axis": {"x": "independent", "y": "independent"}}
    }
  ]
}
